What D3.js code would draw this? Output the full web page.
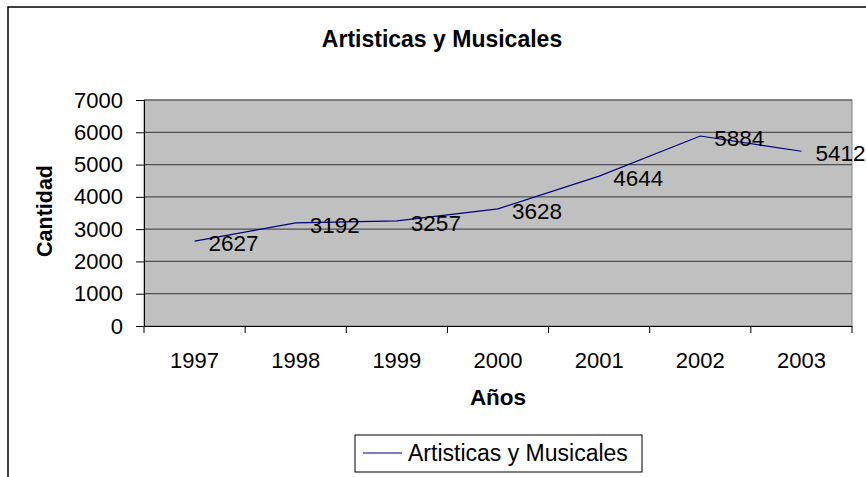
<!DOCTYPE html>
<html>
<head>
<meta charset="utf-8">
<script src="https://cdn.jsdelivr.net/npm/d3@7"></script>
<style>
  body { margin: 0; background: #fff; }
  svg { display: block; font-family: "Liberation Sans", Arial, sans-serif; }
  .tick text { font-size: 22px; fill: #000; }
</style>
</head>
<body>
<div class="chart"></div>
<script>
// Artisticas y Musicales - line chart
var years = ["1997", "1998", "1999", "2000", "2001", "2002", "2003"];
var cantidad = [2627, 3192, 3257, 3628, 4644, 5884, 5412];
var yTicks = [0, 1000, 2000, 3000, 4000, 5000, 6000, 7000];
var seriesName = "Artisticas y Musicales";

var svgWidth = 866;
var svgHeight = 477;
var margin = { top: 100, right: 14, bottom: 151, left: 144 };
var width = svgWidth - margin.left - margin.right;
var height = svgHeight - margin.top - margin.bottom;

var svg = d3.select(".chart")
    .append("svg")
    .attr("width", svgWidth)
    .attr("height", svgHeight);

// outer chart border (runs off the right/bottom edge)
svg.append("rect")
    .attr("x", 8).attr("y", 7)
    .attr("width", 880).attr("height", 500)
    .attr("fill", "#fff")
    .attr("stroke", "#000")
    .attr("stroke-width", 1.5);

var chart = svg.append("g")
    .attr("transform", "translate(" + margin.left + "," + margin.top + ")");

var xScale = d3.scaleBand().domain(years).range([0, width]);
var yScale = d3.scaleLinear().domain([0, 7000]).range([height, 0]);

// plot background
chart.append("rect")
    .attr("width", width)
    .attr("height", height)
    .attr("fill", "#c0c0c0")
    .attr("stroke", "#808080")
    .attr("stroke-width", 1);

// gridlines
chart.selectAll(".grid")
    .data(yTicks.filter(function(d) { return d > 0; }))
    .enter()
    .append("line")
    .attr("class", "grid")
    .attr("x1", 0).attr("x2", width)
    .attr("y1", function(d) { return yScale(d); })
    .attr("y2", function(d) { return yScale(d); })
    .attr("stroke", "#505050")
    .attr("stroke-width", 1.2);

// axes
var leftAxis = d3.axisLeft(yScale).tickValues(yTicks).tickFormat(d3.format("d"))
    .tickSize(8).tickPadding(13);
var yAxisG = chart.append("g").call(leftAxis);
yAxisG.select(".domain").attr("stroke", "#000");
yAxisG.selectAll(".tick line").attr("stroke", "#000");

var bottomAxis = d3.axisBottom(xScale).tickSize(0).tickPadding(26);
var xAxisG = chart.append("g")
    .attr("transform", "translate(0," + height + ")")
    .call(bottomAxis);
xAxisG.select(".domain").attr("stroke", "#000");

// category boundary ticks
var bounds = years.map(function(d) { return xScale(d); }).concat([width]);
chart.selectAll(".xtick")
    .data(bounds)
    .enter()
    .append("line")
    .attr("class", "xtick")
    .attr("x1", function(d) { return d; })
    .attr("x2", function(d) { return d; })
    .attr("y1", height)
    .attr("y2", height + 7)
    .attr("stroke", "#000");

// the series line
var points = years.map(function(y, i) { return { year: y, value: cantidad[i] }; });
var line = d3.line()
    .x(function(d) { return xScale(d.year) + xScale.bandwidth() / 2; })
    .y(function(d) { return yScale(d.value); });

chart.append("path")
    .datum(points)
    .attr("d", line)
    .attr("fill", "none")
    .attr("stroke", "#000080")
    .attr("stroke-width", 1.2);

// data labels
chart.selectAll(".dlabel")
    .data(points)
    .enter()
    .append("text")
    .attr("class", "dlabel")
    .attr("x", function(d) { return xScale(d.year) + xScale.bandwidth() / 2 + 14; })
    .attr("y", function(d) { return yScale(d.value) + 10; })
    .attr("font-size", "22.5px")
    .text(function(d) { return d.value; });

// title
svg.append("text")
    .attr("x", 442).attr("y", 47)
    .attr("text-anchor", "middle")
    .attr("font-size", "23px")
    .attr("font-weight", "bold")
    .text(seriesName);

// axis titles
svg.append("text")
    .attr("x", 498).attr("y", 405)
    .attr("text-anchor", "middle")
    .attr("font-size", "22.5px")
    .attr("font-weight", "bold")
    .text("Años");

svg.append("text")
    .attr("transform", "translate(52,211) rotate(-90)")
    .attr("text-anchor", "middle")
    .attr("font-size", "21.5px")
    .attr("font-weight", "bold")
    .text("Cantidad");

// legend
var legend = svg.append("g").attr("transform", "translate(355,435)");
legend.append("rect")
    .attr("width", 287).attr("height", 37)
    .attr("fill", "#fff")
    .attr("stroke", "#000")
    .attr("stroke-width", 1);
legend.append("line")
    .attr("x1", 8).attr("x2", 47)
    .attr("y1", 18).attr("y2", 18)
    .attr("stroke", "#000080")
    .attr("stroke-width", 1.2);
legend.append("text")
    .attr("x", 53).attr("y", 26)
    .attr("font-size", "23px")
    .text(seriesName);
</script>
</body>
</html>
